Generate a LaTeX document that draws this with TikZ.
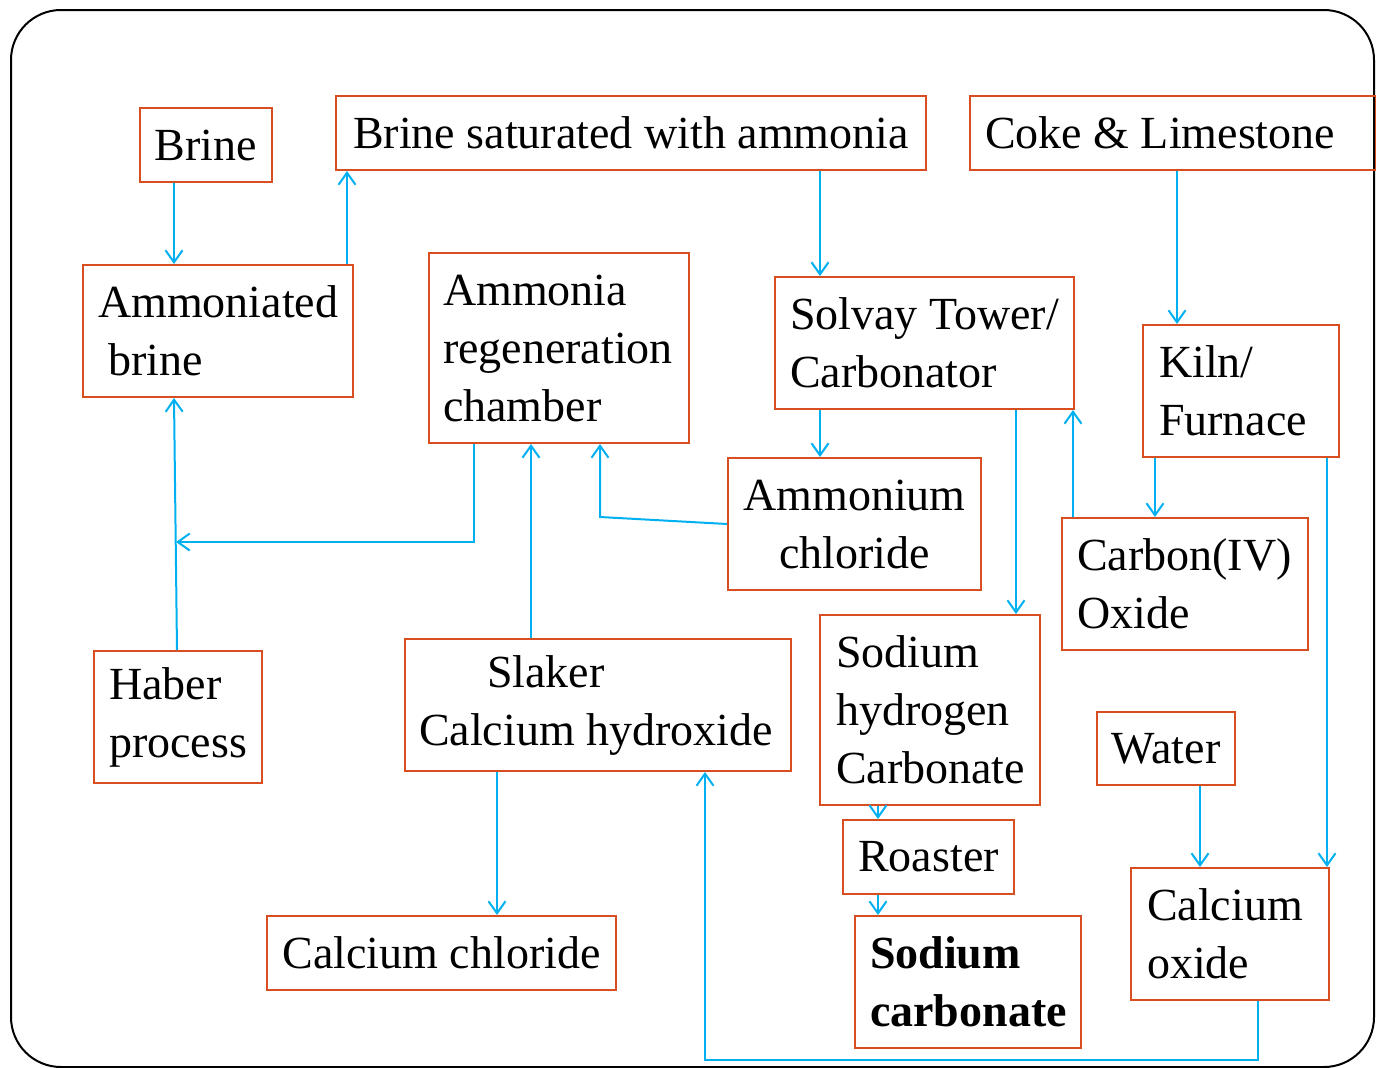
\documentclass[tikz,border=0pt]{standalone}
\usepackage{fontspec}
\setmainfont{Liberation Serif}
\usetikzlibrary{arrows.meta}
\definecolor{boxc}{RGB}{216,78,32}
\definecolor{arrc}{RGB}{0,176,240}
\begin{document}
\begin{tikzpicture}[x=1pt,y=-1pt,
 box/.style={draw=boxc,line width=2pt,anchor=north west,inner ysep=0pt,font=\fontsize{46}{58}\selectfont,
   execute at begin node={\spaceskip=0pt\xspaceskip=0pt\relax}},
 lbox/.style={box,align=left},
 cbox/.style={box,align=center},
 arr/.style={draw=arrc,line width=2pt,-{Straight Barb[length=12pt,width=17pt]}},
 link/.style={draw=arrc,line width=2pt}]
\useasboundingbox (0,0) rectangle (1376,1068);
\draw[line width=2pt,rounded corners=50pt] (11,10) rectangle (1374,1067);
% boxes
\node[cbox,minimum width=132pt,minimum height=74pt] (brine) at (139,107) {Brine};
\node[cbox,minimum width=590pt,minimum height=74pt] (bsat) at (335,95) {Brine saturated with ammonia};
\node[lbox,inner xsep=15pt,text width=376pt,minimum height=74pt] (coke) at (969,95) {\mbox{Coke \& Limestone}};
\node[lbox,inner xsep=15pt,text width=240pt,minimum height=132pt] (ambrine) at (82,264) {Ammoniated\\\hspace*{10pt}brine};
\node[lbox,inner xsep=14pt,text width=232pt,minimum height=190pt] (regen) at (428,252) {Ammonia\\regeneration\\chamber};
\node[lbox,inner xsep=15pt,text width=269pt,minimum height=132pt] (solvay) at (774,276) {\mbox{Solvay Tower/}\\Carbonator};
\node[lbox,inner xsep=16pt,text width=164pt,minimum height=132pt] (kiln) at (1142,324) {Kiln/\\Furnace};
\node[cbox,minimum width=253pt,minimum height=132pt] (nh4cl) at (727,457) {Ammonium\\chloride};
\node[lbox,inner xsep=15pt,text width=216pt,minimum height=132pt] (co2) at (1061,517) {Carbon(IV)\\Oxide};
\node[lbox,inner xsep=15pt,text width=138pt,minimum height=132pt] (haber) at (93,650) {Haber\\process};
\node[lbox,inner xsep=14pt,text width=358pt,minimum height=132pt] (slaker) at (404,638) {\hspace*{68pt}Slaker\\\mbox{Calcium hydroxide}};
\node[lbox,inner xsep=16pt,text width=188pt,minimum height=190pt] (nahco3) at (819,614) {Sodium\\hydrogen\\Carbonate};
\node[cbox,minimum width=138pt,minimum height=73pt] (water) at (1096,711) {Water};
\node[cbox,minimum width=171pt,minimum height=74pt] (roaster) at (842,819) {Roaster};
\node[cbox,minimum width=349pt,minimum height=74pt] (cacl2) at (266,915) {Calcium chloride};
\node[lbox,inner xsep=15pt,text width=196pt,minimum height=132pt] (na2co3) at (854,915) {\textbf{Sodium}\\\textbf{carbonate}};
\node[lbox,inner xsep=16pt,text width=166pt,minimum height=132pt] (cao) at (1130,867) {Calcium\\oxide};
% helper coordinates
\coordinate (k1) at (600,517);
\coordinate (j1) at (474,542);
\coordinate (j2) at (176,542);
\coordinate (m1) at (1258,1060);
\coordinate (m2) at (705,1060);
% connectors
\draw[arr] (brine.south -| 174,0) -- (ambrine.north -| 174,0);
\draw[arr] (ambrine.north -| 347,0) -- (bsat.south -| 347,0);
\draw[arr] (bsat.south -| 820,0) -- (solvay.north -| 820,0);
\draw[arr] (coke.south -| 1177,0) -- (kiln.north -| 1177,0);
\draw[arr] (solvay.south -| 820,0) -- (nh4cl.north -| 820,0);
\draw[arr] (solvay.south -| 1016,0) -- (nahco3.north -| 1016,0);
\draw[arr] (co2.north -| 1073,0) -- (solvay.south -| 1073,0);
\draw[arr] (kiln.south -| 1155,0) -- (co2.north -| 1155,0);
\draw[arr] (kiln.south -| 1327,0) -- (cao.north -| 1327,0);
\draw[arr] (water.south -| 1200,0) -- (cao.north -| 1200,0);
\draw[arr] (nh4cl.west) -- (k1) -- (regen.south -| 600,0);
\draw[arr] (regen.south -| 474,0) -- (j1) -- (j2);
\draw[arr] (haber.north -| 177,0) -- (ambrine.south -| 174,0);
\draw[arr] (slaker.north -| 531,0) -- (regen.south -| 531,0);
\draw[arr] (slaker.south -| 497,0) -- (cacl2.north -| 497,0);
\draw[arr] (cao.south -| 1258,0) -- (m1) -- (m2) -- (slaker.south -| 705,0);
\draw[arr] (nahco3.south -| 878,0) -- (roaster.north -| 878,0);
\draw[arr] (roaster.south -| 878,0) -- (na2co3.north -| 878,0);
\end{tikzpicture}
\end{document}
